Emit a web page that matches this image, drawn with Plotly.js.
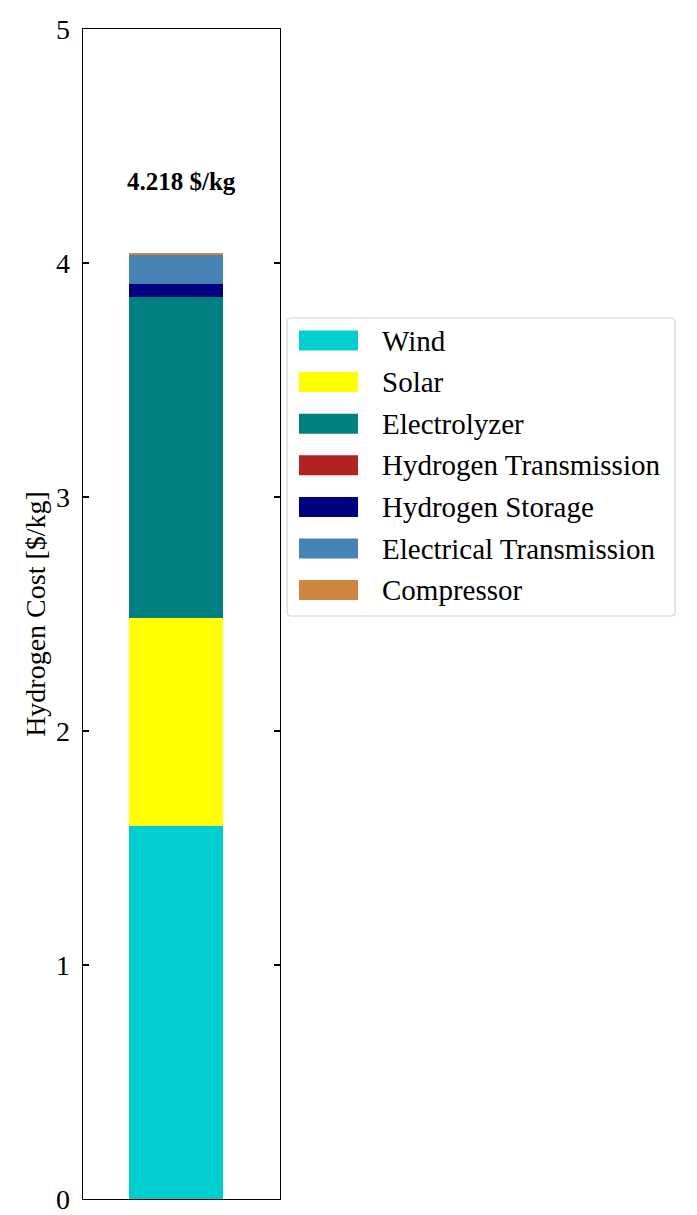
<!DOCTYPE html>
<html>
<head>
<meta charset="utf-8">
<script src="https://cdn.plot.ly/plotly-3.0.1.min.js"></script>
<style>
  html, body { margin: 0; padding: 0; background: #ffffff; }
  #rule { position: absolute; left: 19px; top: 1px; width: 678px; height: 2px; background: #c6c6c6; }
  #chart { width: 697px; height: 1215px; }
</style>
</head>
<body>
<div id="rule"></div>
<div id="chart"></div>
<script>
// Levelised hydrogen cost breakdown, stacked bottom to top
const categories = ['Wind', 'Solar', 'Electrolyzer', 'Hydrogen Transmission',
                    'Hydrogen Storage', 'Electrical Transmission', 'Compressor'];
const costs = [1.593, 0.892, 1.371, 0.0, 0.055, 0.123, 0.010];
const colors = ['#00CED1', '#FFFF00', '#008080', '#B22222', '#000080', '#4682B4', '#CD853F'];
const totalLabel = '4.218 $/kg';
const yTicks = [0, 1, 2, 3, 4, 5];

const FONT = 'Liberation Serif, Times New Roman, serif';

// plot-area geometry (pixels) used to place the hand-built legend
const W = 697, H = 1215;
const M = { l: 83, r: 417, t: 29, b: 16 };
const plotW = W - M.l - M.r, plotH = H - M.t - M.b;
const px = x => (x - M.l) / plotW;
const py = y => (H - M.b - y) / plotH;

const traces = categories.map((name, i) => ({
  type: 'bar',
  name: name,
  x: [0],
  y: [costs[i]],
  width: 0.8,
  marker: { color: colors[i], line: { width: 0 } },
  showlegend: false,
  hoverinfo: 'name+y'
}));

// legend: rounded frame, swatches and labels
const shapes = [];
const annotations = [];
const box = { x0: 287, x1: 675, y0: 318, y1: 616, r: 4 };
const rx = box.r / plotW, ry = box.r / plotH;
const bx0 = px(box.x0), bx1 = px(box.x1), by0 = py(box.y1), by1 = py(box.y0);
shapes.push({
  type: 'path', xref: 'paper', yref: 'paper',
  path: `M${bx0 + rx},${by0} L${bx1 - rx},${by0} Q${bx1},${by0} ${bx1},${by0 + ry} ` +
        `L${bx1},${by1 - ry} Q${bx1},${by1} ${bx1 - rx},${by1} ` +
        `L${bx0 + rx},${by1} Q${bx0},${by1} ${bx0},${by1 - ry} ` +
        `L${bx0},${by0 + ry} Q${bx0},${by0} ${bx0 + rx},${by0} Z`,
  line: { color: '#d4d4d4', width: 1.2 },
  fillcolor: 'rgba(255,255,255,0.85)',
  layer: 'above'
});
const rowGap = 41.6, firstRow = 340.5;
categories.forEach((name, i) => {
  const yc = firstRow + i * rowGap;
  shapes.push({
    type: 'rect', xref: 'paper', yref: 'paper',
    x0: px(299), x1: px(358), y0: py(yc + 10), y1: py(yc - 10),
    fillcolor: colors[i], line: { width: 0 }, layer: 'above'
  });
  annotations.push({
    xref: 'paper', yref: 'paper', x: px(380), y: py(yc),
    xanchor: 'left', yanchor: 'middle', showarrow: false,
    text: name, font: { family: FONT, size: 29, color: '#000000' }
  });
});

// total cost above the bar
annotations.push({
  xref: 'x', yref: 'y', x: 0.044, y: 4.35,
  xanchor: 'center', yanchor: 'middle', showarrow: false,
  text: '<b>' + totalLabel + '</b>',
  font: { family: FONT, size: 25, color: '#000000' }
});

const layout = {
  width: W, height: H,
  margin: M,
  paper_bgcolor: '#ffffff',
  plot_bgcolor: '#ffffff',
  barmode: 'stack',
  bargap: 0,
  showlegend: false,
  font: { family: FONT, size: 27, color: '#000000' },
  xaxis: {
    range: [-0.794, 0.883],
    showline: true, mirror: true, linecolor: '#000000', linewidth: 1.3,
    showticklabels: false, ticks: '', showgrid: false, zeroline: false, fixedrange: true
  },
  yaxis: {
    range: [0, 5],
    tickvals: yTicks, ticktext: yTicks.map(String),
    ticks: 'inside', ticklen: 6, tickwidth: 1.2, tickcolor: '#000000',
    ticklabelstandoff: 6,
    ticklabeloverflow: 'allow',
    showline: true, mirror: 'ticks', linecolor: '#000000', linewidth: 1.3,
    showgrid: false, zeroline: false,
    tickfont: { family: FONT, size: 28, color: '#000000' },
    title: { text: 'Hydrogen Cost [$/kg]', standoff: 2,
             font: { family: FONT, size: 28, color: '#000000' } }
  },
  shapes: shapes,
  annotations: annotations
};

Plotly.newPlot('chart', traces, layout, { displayModeBar: false, staticPlot: true });
</script>
</body>
</html>
